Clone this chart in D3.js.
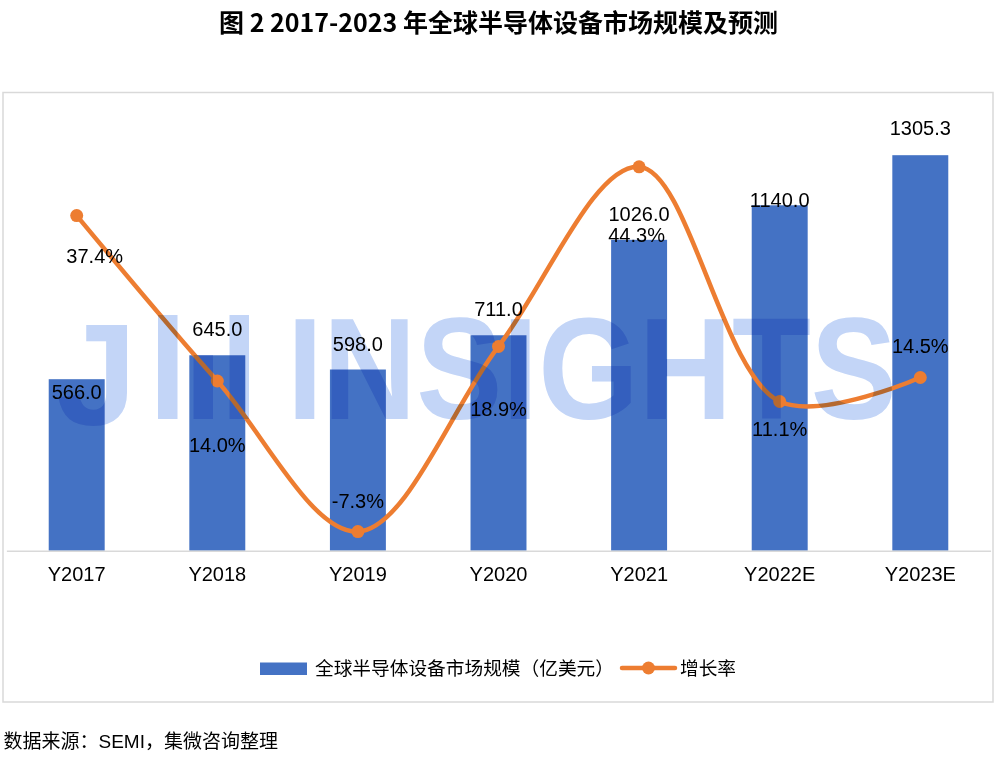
<!DOCTYPE html>
<html><head><meta charset="utf-8">
<script src="https://cdn.jsdelivr.net/npm/d3@7"></script>
<style>
body{margin:0;background:#fff;}
svg{display:block;}
</style></head><body>
<svg id="chart" width="1000" height="757"></svg>
<script>
// ---- data ----
const categories = ["Y2017","Y2018","Y2019","Y2020","Y2021","Y2022E","Y2023E"];
const marketSize = [566.0, 645.0, 598.0, 711.0, 1026.0, 1140.0, 1305.3];
const growthRate = [37.4, 14.0, -7.3, 18.9, 44.3, 11.1, 14.5];
const sizeDomain = [0, 1400];
const rateDomain = [-10, 50];
const seriesNames = ["全球半导体设备市场规模（亿美元）", "增长率"];
const titleText = "图 2 2017-2023 年全球半导体设备市场规模及预测";
const sourceText = "数据来源：SEMI，集微咨询整理";

// ---- layout (label nudges, px) ----
const barLabelDy = [13, -26, -25.5, -26, -26, -5, -27];
const rateLabelNudge = [[18,40],[0,64],[0,-30.5],[0,62],[-2.5,68],[0,27],[0,-31.5]];

const BAR = "#4472C4", ORANGE = "#ED7D31";
const LATIN = "'Liberation Sans', Arial, 'Noto Sans CJK SC', sans-serif";
const CJK = "'Liberation Sans', 'Noto Sans CJK SC', sans-serif";

const svg = d3.select("#chart");

// title
svg.append("text").attr("x", 498.5).attr("y", 31.5).attr("text-anchor","middle")
  .style("font-family","'Noto Sans CJK SC', sans-serif").style("font-weight","700")
  .style("font-size","25px").attr("fill","#000").text(titleText);

// chart border
svg.append("rect").attr("x",3).attr("y",92.5).attr("width",990).attr("height",609.5)
  .attr("fill","none").attr("stroke","#d9d9d9").attr("stroke-width",1.5);

const x = d3.scaleBand().domain(categories).range([6.4, 990.6])
  .paddingInner(0.602).paddingOuter(0.301);
const yL = d3.scaleLinear().domain(sizeDomain).range([550.7, 126.5]);
const yR = d3.scaleLinear().domain(rateDomain).range([550.7, 126.5]);
const cx = c => x(c) + x.bandwidth()/2;

// bars
svg.append("g").selectAll("rect").data(categories).join("rect")
  .attr("x", d => x(d)).attr("width", x.bandwidth())
  .attr("y", (d,i) => yL(marketSize[i])).attr("height", (d,i) => yL(0) - yL(marketSize[i]))
  .attr("fill", BAR);

// x axis
const xAxis = svg.append("g").attr("transform", `translate(0,${yL(0)})`)
  .call(d3.axisBottom(x).tickSize(0).tickSizeOuter(0).tickPadding(16.3));
xAxis.select(".domain").attr("stroke","#d9d9d9").attr("stroke-width",1.5);
xAxis.selectAll("text").style("font-family", LATIN).style("font-size","20px").attr("fill","#000");

// line
const line = d3.line().x((d,i) => cx(categories[i])).y(d => yR(d)).curve(d3.curveCatmullRom.alpha(0.5));
svg.append("path").datum(growthRate).attr("d", line).attr("fill","none")
  .attr("stroke", ORANGE).attr("stroke-width", 4.5).attr("stroke-linecap","round");
svg.append("g").selectAll("circle").data(growthRate).join("circle")
  .attr("cx", (d,i) => cx(categories[i])).attr("cy", d => yR(d)).attr("r", 6.5).attr("fill", ORANGE);

// bar labels
svg.append("g").selectAll("text").data(marketSize).join("text")
  .attr("x", (d,i) => cx(categories[i])).attr("y", (d,i) => yL(d) + barLabelDy[i] + 7.2)
  .attr("text-anchor","middle").style("font-family", LATIN).style("font-size","20px").attr("fill","#000")
  .text(d => d.toFixed(1));

// rate labels
svg.append("g").selectAll("text").data(growthRate).join("text")
  .attr("x", (d,i) => cx(categories[i]) + rateLabelNudge[i][0])
  .attr("y", (d,i) => yR(d) + rateLabelNudge[i][1] + 7.2)
  .attr("text-anchor","middle").style("font-family", LATIN).style("font-size","20px").attr("fill","#000")
  .text(d => d.toFixed(1) + "%");

// watermark
const wm = svg.append("g").style("mix-blend-mode","multiply").attr("fill","#c3d5f7");
wm.append("text").attr("x",137).attr("y",425).attr("text-anchor","end")
  .style("font-family", LATIN).style("font-weight","700").style("font-size","145px").text("J");
wm.append("rect").attr("x",158).attr("y",315).attr("width",19.5).attr("height",104);
wm.append("rect").attr("x",193.5).attr("y",355).attr("width",19.5).attr("height",64);
wm.append("rect").attr("x",229.5).attr("y",315).attr("width",19.5).attr("height",104);
wm.append("text").attr("x",287).attr("y",419).attr("textLength",610).attr("lengthAdjust","spacingAndGlyphs")
  .style("font-family", LATIN).style("font-weight","700").style("font-size","145px").text("INSIGHTS");

// legend
const lg = svg.append("g");
lg.append("rect").attr("x",260).attr("y",662.5).attr("width",47).attr("height",12.5).attr("fill",BAR);
lg.append("text").attr("x",315).attr("y",675).style("font-family",CJK).style("font-size","18.7px")
  .attr("fill","#000").text(seriesNames[0]);
lg.append("line").attr("x1",622).attr("x2",675).attr("y1",668).attr("y2",668)
  .attr("stroke",ORANGE).attr("stroke-width",4.5).attr("stroke-linecap","round");
lg.append("circle").attr("cx",648.5).attr("cy",668).attr("r",6.5).attr("fill",ORANGE);
lg.append("text").attr("x",680).attr("y",675).style("font-family",CJK).style("font-size","18.7px")
  .attr("fill","#000").text(seriesNames[1]);

// source
svg.append("text").attr("x",3.5).attr("y",748).style("font-family",CJK).style("font-size","19px")
  .attr("fill","#000").text(sourceText);
</script>
</body></html>
